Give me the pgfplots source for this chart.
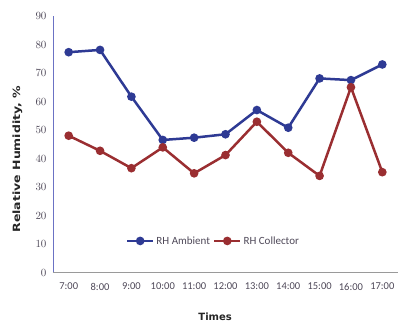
\documentclass[border=0pt]{standalone}
\usepackage{pgfplots}
\pgfplotsset{compat=1.18}
\usepackage{fontspec}
\setmainfont{Carlito}
\newfontfamily\labelfont{DejaVu Sans}
\definecolor{rhblue}{HTML}{2E3A94}
\definecolor{rhred}{HTML}{9A2E31}
\definecolor{ticktext}{HTML}{4E4858}
\definecolor{yaxisline}{HTML}{6B72C4}
\definecolor{xaxisline}{HTML}{9A9A9A}
\begin{document}
\begin{tikzpicture}
\begin{axis}[
  scale only axis,
  width=345pt, height=256.5pt,
  xmin=-0.5, xmax=10.5,
  ymin=0, ymax=90,
  ytick={0,10,...,90},
  xtick={0,...,10},
  xticklabels={7:00,8:00,9:00,10:00,11:00,12:00,13:00,14:00,15:00,16:00,17:00},
  axis x line*=bottom,
  axis y line*=left,
  x axis line style={draw=xaxisline, line width=0.8pt, -},
  y axis line style={draw=yaxisline, line width=0.8pt, -},
  major tick length=0pt,
  tick label style={font=\fontsize{10.5}{12}\selectfont, text=ticktext},
  xticklabel style={yshift=-7pt},
  yticklabel style={xshift=-3pt},
  xlabel={Times},
  ylabel={\scalebox{1.25}[1]{Relative Humidity, \%}},
  xlabel style={font=\labelfont\bfseries\fontsize{10}{12}\selectfont, text=black!85,
    at={(axis description cs:0.47,-0.173)}, anchor=center},
  ylabel style={font=\labelfont\bfseries\fontsize{10}{12}\selectfont, text=black!85,
    at={(axis description cs:-0.103,0.442)}, anchor=center},
  legend style={draw=none, fill=none, at={(axis description cs:0.465,0.123)},
    anchor=center, font=\fontsize{11}{13}\selectfont, text=ticktext,
    /tikz/every even column/.append style={column sep=1pt}},
  legend columns=2,
  legend image code/.code={%
    \draw[mark repeat=2, mark phase=2]
      plot coordinates {(0pt,0pt) (13pt,0pt) (26pt,0pt)};},
  clip=false,
]
\addplot[color=rhblue, line width=2.5pt, mark=*, mark size=3pt]
  coordinates {(0,77.3) (1,78.1) (2,61.7) (3,46.5) (4,47.3) (5,48.5)
               (6,57.0) (7,50.8) (8,68.1) (9,67.5) (10,73.0)};
\addlegendentry{RH Ambient}
\addplot[color=rhred, line width=2.5pt, mark=*, mark size=3pt]
  coordinates {(0,48.0) (1,42.7) (2,36.6) (3,43.9) (4,34.8) (5,41.2)
               (6,52.9) (7,42.0) (8,33.9) (9,65.0) (10,35.2)};
\addlegendentry{RH Collector}
\end{axis}
\pgfresetboundingbox
\path ([xshift=-53pt,yshift=-51.5pt]current axis.south west)
  rectangle ([yshift=16pt]current axis.north east);
\end{tikzpicture}
\end{document}
